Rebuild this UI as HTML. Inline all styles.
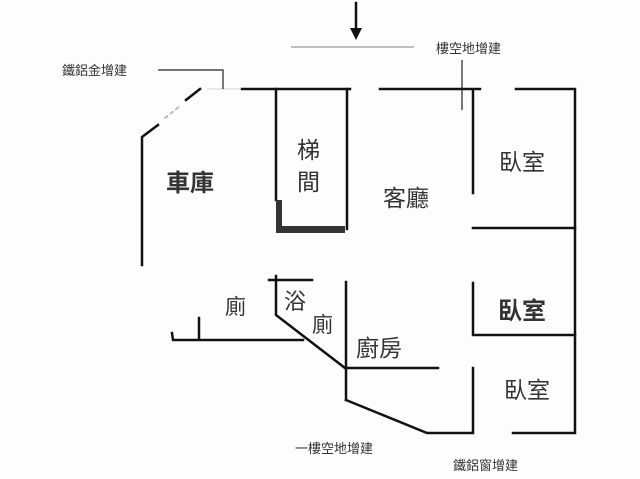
<!DOCTYPE html>
<html><head><meta charset="utf-8"><style>
body{margin:0;background:#fff}
svg{display:block}
text{font-family:"Liberation Sans","Noto Sans CJK TC",sans-serif;fill:#333}
</style></head><body>
<svg width="640" height="479" viewBox="0 0 640 479" xmlns="http://www.w3.org/2000/svg">
<rect width="640" height="479" fill="#fdfdfd"/>
<g stroke="#111" stroke-width="2.5" fill="none" stroke-linecap="square">
<line x1="356" y1="3" x2="356" y2="30"/>
<polyline points="142,265 142,137 158,125"/>
<line x1="186" y1="100" x2="200" y2="89"/>
<line x1="165" y1="118" x2="180" y2="106" stroke="#aaa" stroke-width="1.5" stroke-dasharray="3,4"/>
<line x1="242" y1="89" x2="350" y2="89"/>
<line x1="380" y1="89" x2="480" y2="89"/>
<polyline points="516,89 575,89 575,433 513,433"/>
<line x1="276" y1="89" x2="276" y2="200"/>
<line x1="347" y1="89" x2="347" y2="229"/>
<line x1="473" y1="91" x2="473" y2="193"/>
<line x1="473" y1="228" x2="575" y2="228"/>
<polyline points="473,283 473,335 575,335"/>
<polyline points="269,280 312,280"/>
<polyline points="276,276 276,315 345,368 438,368"/>
<line x1="346" y1="282" x2="346" y2="400"/>
<polyline points="346,400 427,433 473,433 473,368"/>
<polyline points="172,333 173,340 303,340"/>
<line x1="199" y1="318" x2="199" y2="339"/>
</g>
<polygon points="350,28 362,28 356,40" fill="#111"/>
<path d="M276 200 V233 H345 V226 H282 V200 Z" fill="#333"/>
<g stroke="#999" stroke-width="1.2">
<line x1="291" y1="47" x2="414" y2="47"/>
<line x1="207" y1="89" x2="240" y2="89" stroke="#ddd"/>
</g>
<g stroke="#222" stroke-width="1.2" fill="none">
<polyline points="158,70 223,70 223,89"/>
<line x1="462" y1="60" x2="462" y2="110"/>
</g>
<text x="166" y="191" font-size="24" font-weight="bold" fill="#222">車庫</text>
<text x="297" y="158" font-size="23">梯</text>
<text x="297" y="190" font-size="23">間</text>
<text x="383" y="206" font-size="23">客廳</text>
<text x="499" y="170" font-size="23">臥室</text>
<text x="498" y="319" font-size="24" font-weight="bold" fill="#222">臥室</text>
<text x="504" y="398" font-size="23">臥室</text>
<text x="225" y="314" font-size="21">廁</text>
<text x="284" y="309" font-size="22">浴</text>
<text x="312" y="332" font-size="21">廁</text>
<text x="356" y="356" font-size="23">廚房</text>
<text x="62" y="75" font-size="13" fill="#777">鐵鋁金增建</text>
<text x="436" y="53" font-size="13" fill="#777">樓空地增建</text>
<text x="295" y="453" font-size="13" fill="#777">一樓空地增建</text>
<text x="453" y="470" font-size="13" fill="#777">鐵鋁窗增建</text>
</svg>
</body></html>
